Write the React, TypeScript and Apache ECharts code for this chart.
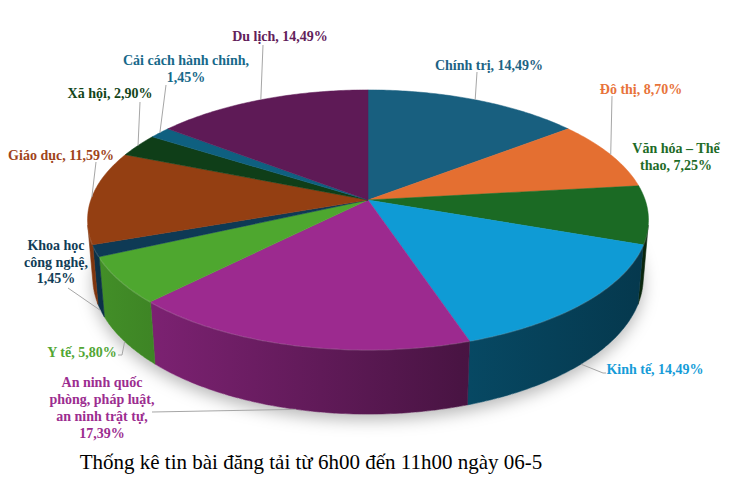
import { useEffect, useRef } from "react";
import * as echarts from "echarts";

// ---- data ----
const categories = [
  "Chính trị",
  "Đô thị",
  "Văn hóa – Thể thao",
  "Kinh tế",
  "An ninh quốc phòng, pháp luật, an ninh trật tự",
  "Y tế",
  "Khoa học công nghệ",
  "Giáo dục",
  "Xã hội",
  "Cải cách hành chính",
  "Du lịch",
];
const values = [14.49, 8.7, 7.25, 14.49, 17.39, 5.8, 1.45, 11.59, 2.9, 1.45, 14.49];
const titleText = "Thống kê tin bài đăng tải từ 6h00 đến 11h00 ngày 06-5";

// ---- styles ----
const topColors = ["#185F7F", "#E46F31", "#1B6A24", "#0F9BD5", "#9C2A8F", "#4EA72F", "#0E3A55", "#943F12", "#0F3E18", "#0F6080", "#5E1A56"];
const labelColors = ["#1D6384", "#E8733A", "#1E6B28", "#169CD8", "#9C2D90", "#52A634", "#113D57", "#A0441A", "#134519", "#17698A", "#62205A"];

// ---- layout (pixels) ----
const labelCenters = [
  [489, 65], [641, 89], [676, 157], [655, 369], [102, 408], [82, 352],
  [56, 262], [61, 155], [110, 93], [186, 69], [280, 36],
];
// words per line for wrapped labels
const labelWrap: (number[] | null)[] = [null, null, [4, 2], null, [3, 3, 4, 1], null, [2, 2, 1], null, null, [4, 1], null];
const leaderPoints: (number[][] | null)[] = [
  [[477, 72]],
  [[612, 96]],
  null,
  [[603, 373], [606, 373]],
  [[152, 412]],
  [[122, 355], [118, 355]],
  [[68, 288]],
  [[96, 162]],
  [[140, 102]],
  [[166, 85]],
  [[263, 45]],
];

// ---- 3D projection ----
const CX = 368, CY = 200, K = 1616, DIST = 5.83;
const SE = 0.4577, CE = Math.sqrt(1 - SE * SE);
const THICK = 0.2376;
const FRONT0 = Math.acos(-1 / (DIST * CE));
const FRONT1 = 2 * Math.PI - FRONT0;

function project(theta: number, y: number): number[] {
  const X = Math.sin(theta), Z = -Math.cos(theta);
  const depth = DIST - y * SE - Z * CE;
  const up = y * CE - Z * SE;
  return [CX + (K * X) / depth, CY - (K * up) / depth];
}
function arc(a0: number, a1: number, y: number): number[][] {
  const n = Math.max(2, Math.ceil(Math.abs(a1 - a0) / (Math.PI / 240)));
  const pts: number[][] = [];
  for (let k = 0; k <= n; k++) pts.push(project(a0 + ((a1 - a0) * k) / n, y));
  return pts;
}
function shade(hex: string, f: number): string {
  const n = parseInt(hex.slice(1), 16);
  const r = Math.round(((n >> 16) & 255) * f);
  const g = Math.round(((n >> 8) & 255) * f);
  const b = Math.round((n & 255) * f);
  return `rgb(${r},${g},${b})`;
}
function fmt(v: number): string {
  return v.toFixed(2).replace(".", ",") + "%";
}
function wrap(text: string, counts: number[] | null): string {
  if (!counts) return text;
  const words = text.split(" ");
  const lines: string[] = [];
  let p = 0;
  counts.forEach((c) => {
    lines.push(words.slice(p, p + c).join(" "));
    p += c;
  });
  if (p < words.length) lines[lines.length - 1] += " " + words.slice(p).join(" ");
  return lines.join("\n");
}

const total = values.reduce((a, b) => a + b, 0);
const starts: number[] = [];
const ends: number[] = [];
{
  let acc = 0;
  values.forEach((v) => {
    starts.push((acc / total) * 2 * Math.PI);
    acc += v;
    ends.push((acc / total) * 2 * Math.PI);
  });
}

export default function App() {
  const ref = useRef<HTMLDivElement>(null);
  useEffect(() => {
    document.body.style.margin = "0";
    const chart = echarts.init(ref.current!, null, { renderer: "svg" });
    const data = categories.map((name, i) => ({ name, value: values[i] }));

    const labelGraphics: any[] = [];
    categories.forEach((name, i) => {
      const mid = (starts[i] + ends[i]) / 2;
      const front = mid > FRONT0 && mid < FRONT1;
      const anchor = project(mid, front ? -THICK : 0);
      const lp = leaderPoints[i];
      if (lp) {
        labelGraphics.push({
          type: "polyline",
          z: 10,
          silent: true,
          shape: { points: [anchor].concat(lp) },
          style: { fill: null, stroke: "#A6A6A6", lineWidth: 1 },
        });
      }
      labelGraphics.push({
        type: "text",
        z: 11,
        silent: true,
        x: labelCenters[i][0],
        y: labelCenters[i][1],
        style: {
          text: wrap(`${name}, ${fmt(values[i])}`, labelWrap[i]),
          font: 'bold 14px "Liberation Serif"',
          fill: labelColors[i],
          lineHeight: 16.8,
          textAlign: "center",
          textVerticalAlign: "middle",
        },
      });
    });

    chart.setOption({
      animation: false,
      backgroundColor: "#ffffff",
      graphic: [
        {
          type: "text",
          x: 311,
          y: 462,
          z: 11,
          silent: true,
          style: {
            text: titleText,
            font: '21px "Liberation Serif"',
            fill: "#000",
            textAlign: "center",
            textVerticalAlign: "middle",
          },
        },
        ...labelGraphics,
      ],
      series: [
        {
          type: "custom",
          coordinateSystem: "none",
          z: 1,
          silent: true,
          data: [0],
          renderItem: () => ({
            type: "polygon",
            shape: { points: arc(0, 2 * Math.PI, -THICK) },
            style: {
              fill: "#ffffff",
              shadowBlur: 16,
              shadowOffsetY: 6,
              shadowColor: "rgba(0,0,0,0.28)",
            },
          }),
        },
        {
          type: "custom",
          coordinateSystem: "none",
          z: 2,
          silent: true,
          data,
          renderItem: (params: any) => {
            const i = params.dataIndex;
            const a0 = Math.max(starts[i], FRONT0);
            const a1 = Math.min(ends[i], FRONT1);
            if (a1 <= a0) return { type: "group", children: [] };
            const top = arc(a0, a1, 0);
            const bot = arc(a1, a0, -THICK);
            const grad = {
              type: "linear",
              x: 90,
              y: 0,
              x2: 645,
              y2: 0,
              global: true,
              colorStops: [
                { offset: 0, color: shade(topColors[i], 0.86) },
                { offset: 0.667, color: shade(topColors[i], 0.47) },
                { offset: 1, color: shade(topColors[i], 0.36) },
              ],
            };
            return {
              type: "group",
              children: [
                {
                  type: "polygon",
                  shape: { points: top.concat(bot) },
                  style: { fill: grad, stroke: grad, lineWidth: 0.6 },
                },
                {
                  type: "polyline",
                  shape: { points: top },
                  style: { fill: null, stroke: "rgba(255,255,255,0.18)", lineWidth: 2 },
                },
              ],
            };
          },
        },
        {
          type: "custom",
          coordinateSystem: "none",
          z: 3,
          silent: true,
          data,
          renderItem: (params: any) => {
            const i = params.dataIndex;
            const pts = [[CX, CY]].concat(arc(starts[i], ends[i], 0));
            return {
              type: "polygon",
              shape: { points: pts },
              style: { fill: topColors[i], stroke: topColors[i], lineWidth: 0.5 },
            };
          },
        },
      ],
    });
    return () => chart.dispose();
  }, []);
  return <div ref={ref} style={{ width: 729, height: 495 }} />;
}
